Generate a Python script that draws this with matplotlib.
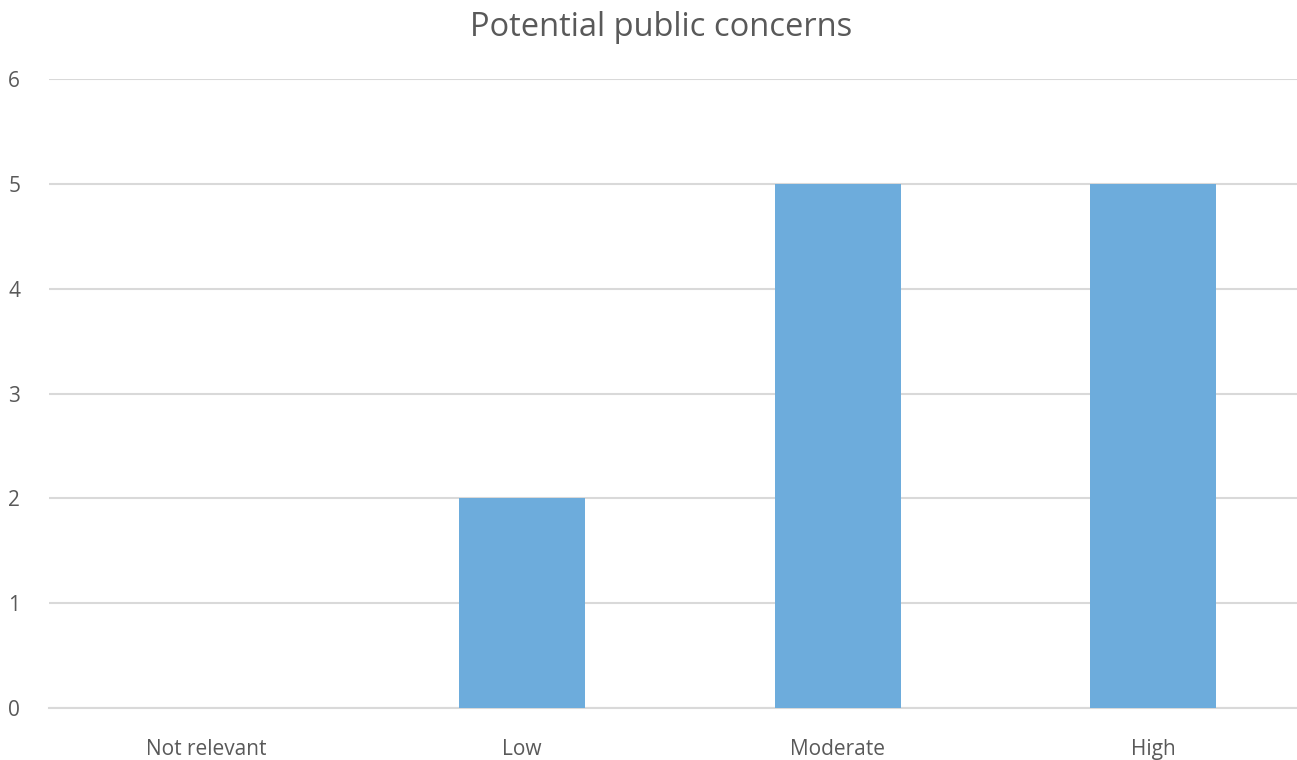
import matplotlib.pyplot as plt

categories = ["Not relevant", "Low", "Moderate", "High"]
counts = [0, 2, 5, 5]
y_ticks = [0, 1, 2, 3, 4, 5, 6]

text_color = "#595959"
plt.rcParams["font.family"] = ["Open Sans", "DejaVu Sans"]

fig = plt.figure(figsize=(12.97, 7.60), dpi=100)
ax = fig.add_axes([49 / 1297, 1 - 708 / 760, 1262 / 1297, 629 / 760])

x = range(len(categories))
ax.bar(x, counts, width=0.4, color="#6DACDC", zorder=3)

ax.set_xlim(-0.5, len(categories) - 0.5)
ax.set_ylim(0, 6)
ax.set_yticks(y_ticks)
ax.set_xticks(list(x))
ax.set_xticklabels(categories)
ax.yaxis.grid(True, color="#D9D9D9", linewidth=1.5, zorder=0)
ax.set_axisbelow(True)
for side in ["top", "right", "left"]:
    ax.spines[side].set_visible(False)
ax.spines["bottom"].set_color("#D9D9D9")
ax.spines["bottom"].set_linewidth(1.5)
ax.tick_params(axis="both", length=0, labelsize=15, colors=text_color)
ax.tick_params(axis="y", pad=25)
ax.tick_params(axis="x", pad=22)
for lbl in ax.get_yticklabels():
    lbl.set_horizontalalignment("center")

fig.text(661 / 1297, 1 - 27 / 760, "Potential public concerns", ha="center",
         va="center", fontsize=23.5, color=text_color)

fig.savefig("out.png", dpi=100)
